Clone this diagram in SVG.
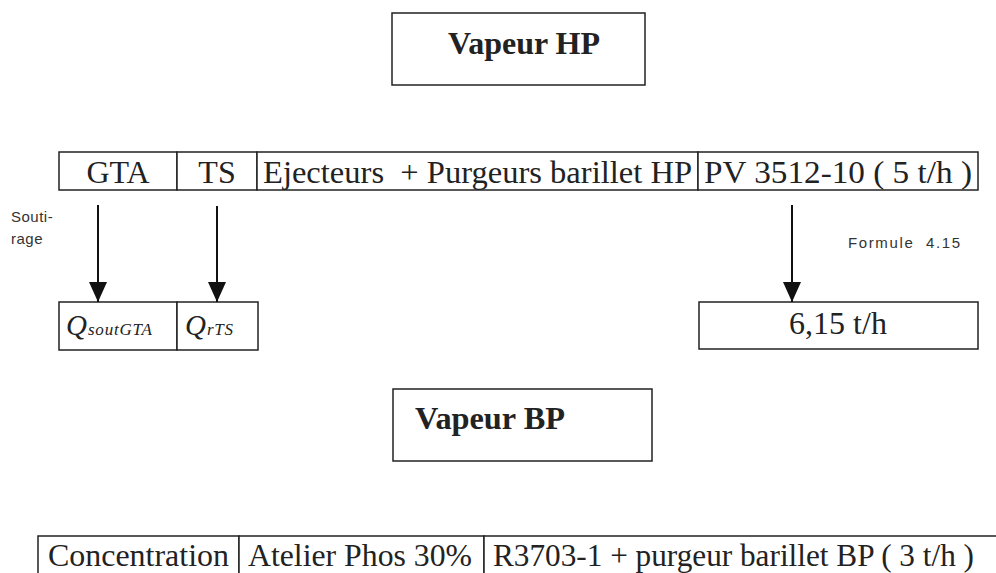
<svg xmlns="http://www.w3.org/2000/svg" width="996" height="573" viewBox="0 0 996 573">
<style>
  .box{fill:#fff;stroke:#222;stroke-width:1.5}
  .t{font-family:"Liberation Serif","Times New Roman",serif;font-size:32px;fill:#222}
  .b{font-family:"Liberation Serif","Times New Roman",serif;font-size:31px;font-weight:bold;fill:#222}
  .s{font-family:"Liberation Sans",Arial,sans-serif;font-size:15px;fill:#333}
  .q{font-family:"Liberation Serif","Times New Roman",serif;font-style:italic;fill:#222}
  .c{stroke:#111;stroke-width:2;fill:none}
</style>
<defs>
  <marker id="ah" markerWidth="22" markerHeight="20" refX="20" refY="9" orient="auto" markerUnits="userSpaceOnUse">
    <path d="M0,0 L20,9 L0,18 Z" fill="#111"/>
  </marker>
</defs>
<rect width="996" height="573" fill="#fff"/>
<g id="vapeurHP">
  <rect class="box" x="392" y="13" width="253" height="72"/>
  <text class="b" x="448" y="54" textLength="152" lengthAdjust="spacingAndGlyphs">Vapeur HP</text>
</g>
<g id="GTA">
  <rect class="box" x="59" y="152" width="118" height="38"/>
  <text class="t" x="118" y="183" text-anchor="middle">GTA</text>
</g>
<g id="TS">
  <rect class="box" x="177" y="152" width="80" height="38"/>
  <text class="t" x="217" y="183" text-anchor="middle">TS</text>
</g>
<g id="ejecteurs">
  <rect class="box" x="257" y="152" width="441" height="38"/>
  <text class="t" x="263" y="183" xml:space="preserve" textLength="429" lengthAdjust="spacingAndGlyphs">Ejecteurs  + Purgeurs barillet HP</text>
</g>
<g id="PV">
  <rect class="box" x="698" y="152" width="280" height="38"/>
  <text class="t" x="704" y="183" textLength="268" lengthAdjust="spacingAndGlyphs">PV 3512-10 ( 5 t/h )</text>
</g>
<g id="QsoutGTA">
  <rect class="box" x="59" y="302" width="118" height="48"/>
  <text class="q" x="66" y="335"><tspan font-size="29">Q</tspan><tspan font-size="17" dx="1" letter-spacing="0.8">soutGTA</tspan></text>
</g>
<g id="QrTS">
  <rect class="box" x="177" y="302" width="81" height="48"/>
  <text class="q" x="185" y="335"><tspan font-size="29">Q</tspan><tspan font-size="17" dx="1" letter-spacing="0.8">rTS</tspan></text>
</g>
<g id="result">
  <rect class="box" x="699" y="302" width="279" height="47"/>
  <text class="t" x="838" y="334" text-anchor="middle">6,15 t/h</text>
</g>
<g id="vapeurBP">
  <rect class="box" x="393" y="389" width="259" height="72"/>
  <text class="b" x="415" y="429" textLength="150" lengthAdjust="spacingAndGlyphs">Vapeur BP</text>
</g>
<g id="concentration">
  <rect class="box" x="38" y="536" width="201" height="45"/>
  <text class="t" x="48" y="566" textLength="181" lengthAdjust="spacingAndGlyphs">Concentration</text>
</g>
<g id="atelier">
  <rect class="box" x="239" y="536" width="245" height="45"/>
  <text class="t" x="248" y="566" textLength="224" lengthAdjust="spacingAndGlyphs">Atelier Phos 30%</text>
</g>
<g id="R3703">
  <rect class="box" x="484" y="536" width="530" height="45"/>
  <text class="t" x="493" y="566" textLength="481" lengthAdjust="spacingAndGlyphs">R3703-1 + purgeur barillet BP ( 3 t/h )</text>
</g>
<g id="labels">
  <text class="s" x="11" y="222" letter-spacing="0.5">Souti-</text>
  <text class="s" x="11" y="244" letter-spacing="0.5">rage</text>
  <text class="s" x="848" y="248" xml:space="preserve" textLength="112" lengthAdjust="spacing">Formule  4.15</text>
</g>
<g id="connectors">
  <line class="c" x1="98" y1="205" x2="98" y2="302" marker-end="url(#ah)"/>
  <line class="c" x1="217" y1="206" x2="217" y2="302" marker-end="url(#ah)"/>
  <line class="c" x1="792" y1="205" x2="792" y2="302" marker-end="url(#ah)"/>
</g>
</svg>
